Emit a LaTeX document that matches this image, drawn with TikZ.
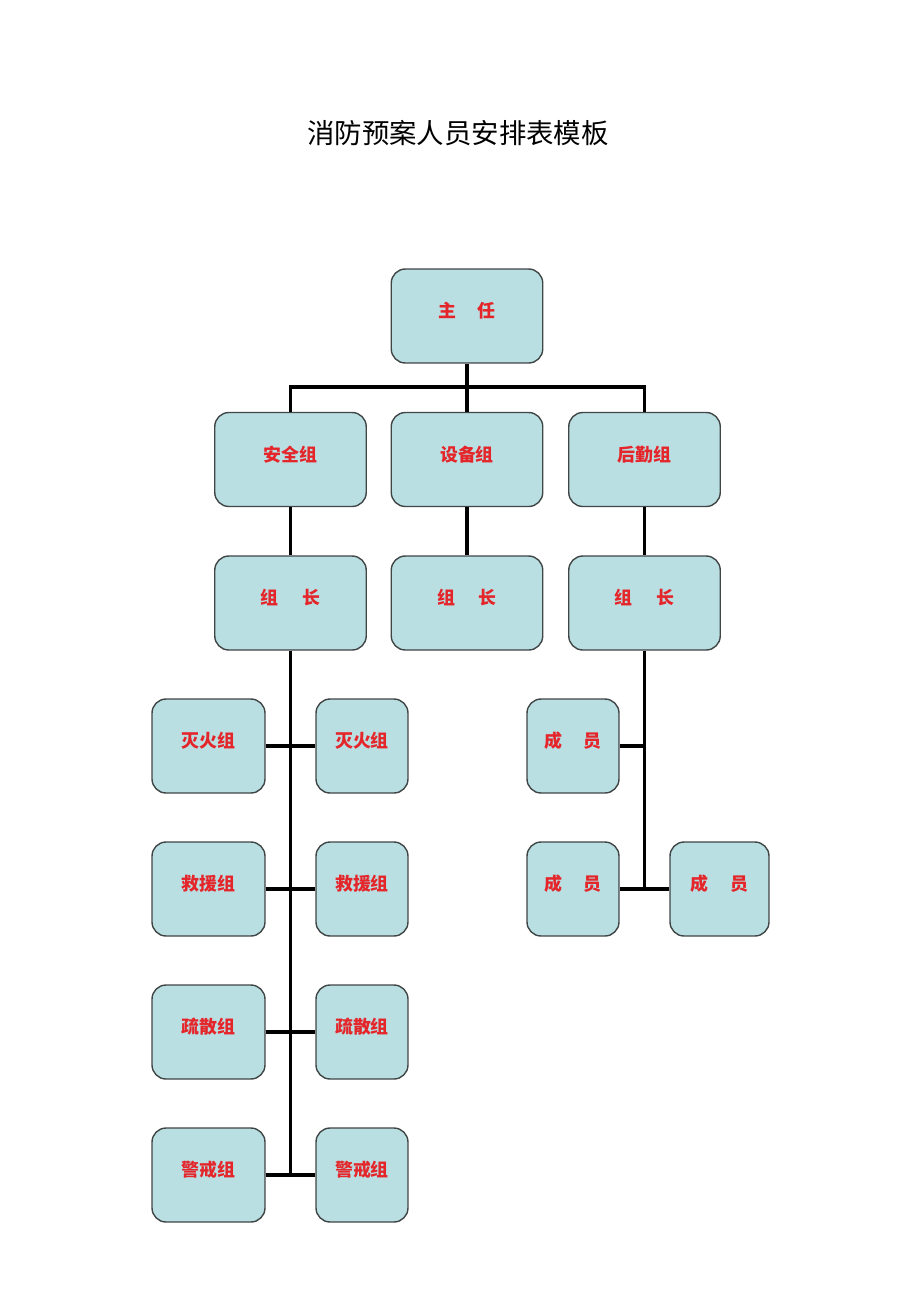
\documentclass[tikz,border=0pt]{standalone}
\usepackage{fontspec}
\newfontfamily\cjk{Noto Sans CJK SC}
\usetikzlibrary{positioning}
\definecolor{boxfill}{HTML}{BADFE3}
\definecolor{boxtext}{HTML}{E4262B}
\definecolor{boxline}{HTML}{404545}

\begin{document}
\begin{tikzpicture}[x=0.02cm, y=-0.02cm,
    box/.style={draw=boxline, fill=boxfill, rounded corners=8pt, line width=0.8pt, minimum height=1.88cm, font=\cjk\bfseries\fontsize{10.2}{12}\selectfont, text=boxtext, inner sep=0pt, text height=0.28cm, text depth=0.22cm},
    wide/.style={box, minimum width=3.03cm},
    mid/.style={box, minimum width=2.26cm},
    small/.style={box, minimum width=1.84cm},
    link/.style={line width=2.2pt, black},
]
\useasboundingbox (0,0) rectangle (920,1302);
\node[font=\cjk\fontsize{15.6}{18}\selectfont] (title) at (458,133) {消防预案人员安排表模板};

% Top tier
\node[wide] (zhuren) at (467,316) {主\hspace{1.2em}任};
\node[wide] (anquan) at (290.5,459.5) {安全组};
\node[wide] (shebei) at (467,459.5) {设备组};
\node[wide] (houqin) at (644.5,459.5) {后勤组};

% Group leaders
\node[wide] (zz1) at (290.5,603) {组\hspace{1.3em}长};
\node[wide] (zz2) at (467,603) {组\hspace{1.3em}长};
\node[wide] (zz3) at (644.5,603) {组\hspace{1.3em}长};

% Safety teams
\node[mid] (mh1) at (208.5,746) {灭火组};
\node[small] (mh2) at (362,746) {灭火组};
\node[mid] (jy1) at (208.5,889) {救援组};
\node[small] (jy2) at (362,889) {救援组};
\node[mid] (ss1) at (208.5,1032) {疏散组};
\node[small] (ss2) at (362,1032) {疏散组};
\node[mid] (jj1) at (208.5,1175) {警戒组};
\node[small] (jj2) at (362,1175) {警戒组};

% Logistics members
\node[small] (cy1) at (573,746) {成\hspace{1.2em}员};
\node[small] (cy2) at (573,889) {成\hspace{1.2em}员};
\node[box, minimum width=1.98cm] (cy3) at (719.5,889) {成\hspace{1.2em}员};

% Top links
\coordinate (bus) at (467,387);
\draw[link] (zhuren) -- (bus);
\draw[link] (anquan.north) |- (bus) -| (houqin.north);
\draw[link] (bus) -- (shebei);
\draw[link] (anquan) -- (zz1);
\draw[link] (shebei) -- (zz2);
\draw[link] (houqin) -- (zz3);

% Left trunk
\coordinate (lend) at (jj1.east -| zz1.south);
\draw[link] (zz1.south) -- (lend);
\draw[link] (mh1.east) -- (mh2.west);
\draw[link] (jy1.east) -- (jy2.west);
\draw[link] (ss1.east) -- (ss2.west);
\draw[link] (jj1.east) -- (jj2.west);

% Right trunk
\coordinate (rend) at (cy2.east -| zz3.south);
\draw[link] (zz3.south) -- (rend);
\draw[link] (cy1.east) -- (cy1.east -| zz3.south);
\draw[link] (cy2.east) -- (cy3.west);
\end{tikzpicture}
\end{document}
